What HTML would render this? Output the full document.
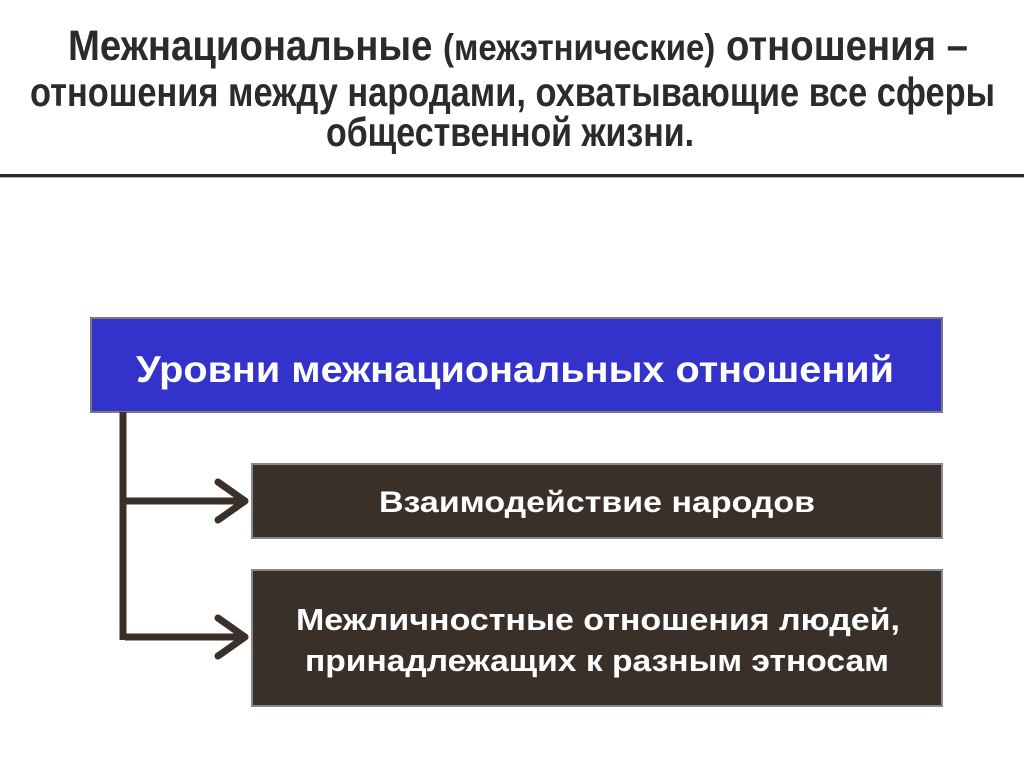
<!DOCTYPE html>
<html><head><meta charset="utf-8"><style>
html,body{margin:0;padding:0;background:#fff;}
svg{display:block;}
text{font-family:"Liberation Sans",sans-serif;font-weight:bold;}
</style></head><body>
<svg width="1024" height="767" viewBox="0 0 1024 767" xmlns="http://www.w3.org/2000/svg">
<rect width="1024" height="767" fill="#fff"/>
<text x="68" y="60" font-size="43" fill="#2b2b2b" textLength="900" lengthAdjust="spacingAndGlyphs">Межнациональные <tspan font-size="37">(межэтнические)</tspan> отношения –</text>
<text x="30" y="106" font-size="41" fill="#2b2b2b" textLength="965" lengthAdjust="spacingAndGlyphs">отношения между народами, охватывающие все сферы</text>
<text x="326" y="146" font-size="41" fill="#2b2b2b" textLength="368" lengthAdjust="spacingAndGlyphs">общественной жизни.</text>
<rect x="0" y="174" width="1024" height="3" fill="#2a2a2a"/>
<rect x="0" y="177" width="1024" height="1" fill="#bbb"/>

<rect x="91" y="318" width="851" height="94" fill="#3333cc" stroke="#7a7a7a" stroke-width="2"/>
<text x="515" y="382" font-size="37" fill="#fff" text-anchor="middle" textLength="758" lengthAdjust="spacingAndGlyphs">Уровни межнациональных отношений</text>

<g stroke="#3a302a" stroke-width="7" fill="none">
<line x1="123" y1="412" x2="123" y2="640"/>
<line x1="123" y1="501" x2="245" y2="501"/>
<line x1="125" y1="637" x2="245" y2="637"/>
<polyline points="218,482 245,501 218,520" stroke-linecap="round" stroke-linejoin="round"/>
<polyline points="218,618 245,637 218,656" stroke-linecap="round" stroke-linejoin="round"/>
</g>

<rect x="252" y="464" width="690" height="74" fill="#3a302a" stroke="#888" stroke-width="2"/>
<text x="597" y="512" font-size="30" fill="#fff" text-anchor="middle" textLength="436" lengthAdjust="spacingAndGlyphs">Взаимодействие народов</text>

<rect x="252" y="570" width="690" height="136" fill="#3a302a" stroke="#888" stroke-width="2"/>
<text x="598" y="630" font-size="31" fill="#fff" text-anchor="middle" textLength="604" lengthAdjust="spacingAndGlyphs">Межличностные отношения людей,</text>
<text x="597" y="671" font-size="31" fill="#fff" text-anchor="middle" textLength="584" lengthAdjust="spacingAndGlyphs">принадлежащих к разным этносам</text>
</svg>
</body></html>
